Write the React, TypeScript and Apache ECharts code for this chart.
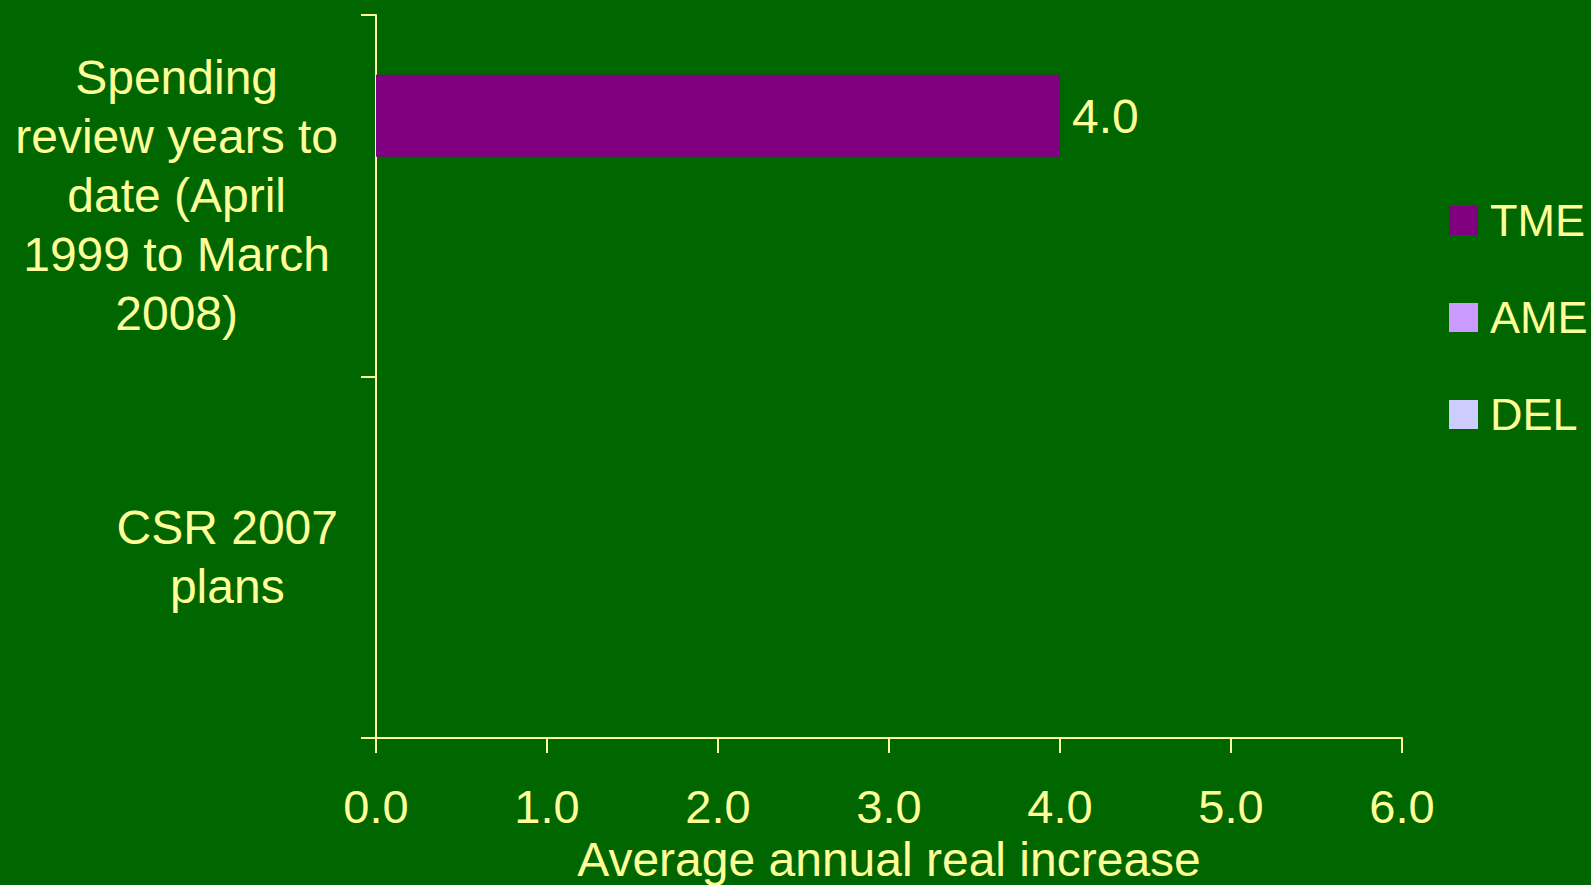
import React, { useEffect, useRef } from "react";
import * as echarts from "echarts";

const categories: string[] = [
  "Spending\nreview years to\ndate (April\n1999 to March\n2008)",
  "CSR 2007\nplans",
];
const seriesNames: string[] = ["TME", "AME", "DEL"];
const tmeValues: (number | string)[] = [4.0, "-"];
const ameValues: (number | string)[] = ["-", "-"];
const delValues: (number | string)[] = ["-", "-"];
const xTicks: number[] = [0, 1, 2, 3, 4, 5, 6];

const BG = "#006600";
const FG = "#FFFF99";
const COLORS = ["#800080", "#CC99FF", "#CCCCFF"];
const FONT = "'Liberation Sans', Arial, sans-serif";

export default function App() {
  const ref = useRef<HTMLDivElement>(null);
  useEffect(() => {
    if (!ref.current) return;
    const chart = echarts.init(ref.current, undefined, { renderer: "svg" });
    const values = [tmeValues, ameValues, delValues];
    chart.setOption({
      animation: false,
      backgroundColor: BG,
      textStyle: { fontFamily: FONT, color: FG },
      legend: {
        orient: "vertical",
        left: 1444,
        top: 193,
        itemWidth: 29,
        itemHeight: 29,
        itemGap: 52,
        icon: "rect",
        data: seriesNames,
        textStyle: { color: FG, fontSize: 45, fontFamily: FONT, padding: [0, 0, 0, 7] },
      },
      grid: {
        left: 376,
        top: 15,
        right: 189,
        bottom: 147,
        containLabel: false,
        outerBoundsMode: "none",
      },
      xAxis: {
        type: "value",
        min: xTicks[0],
        max: xTicks[xTicks.length - 1],
        interval: 1,
        name: "Average annual real increase",
        nameLocation: "middle",
        nameGap: 97,
        nameTextStyle: { color: FG, fontSize: 48, fontFamily: FONT },
        axisLine: { show: true, lineStyle: { color: FG, width: 2 } },
        axisTick: { show: true, length: 15, inside: false, lineStyle: { color: FG, width: 2 } },
        splitLine: { show: false },
        axisLabel: {
          color: FG,
          fontSize: 47,
          fontFamily: FONT,
          margin: 45,
          formatter: (v: number) => v.toFixed(1),
        },
      },
      yAxis: {
        type: "category",
        inverse: true,
        data: categories,
        axisLine: { show: true, lineStyle: { color: FG, width: 2 } },
        axisTick: { show: true, length: 15, inside: false, alignWithLabel: false, lineStyle: { color: FG, width: 2 } },
        splitLine: { show: false },
        axisLabel: {
          color: FG,
          fontSize: 48,
          fontFamily: FONT,
          margin: 38,
          align: "right",
          lineHeight: 59,
          formatter: (v: string) =>
            v
              .split("\n")
              .map((l) => "{c|" + l + "}")
              .join("\n"),
          rich: {
            c: { align: "center", color: FG, fontSize: 48, fontFamily: FONT, lineHeight: 59 },
          },
        },
      },
      series: seriesNames.map((name, i) => ({
        name,
        type: "bar",
        data: values[i],
        barWidth: 82,
        barGap: "-2.5%",
        itemStyle: { color: COLORS[i] },
        label: {
          show: i === 0,
          position: "right",
          distance: 12,
          offset: [0, 1],
          color: FG,
          fontSize: 48,
          fontFamily: FONT,
          formatter: (p: any) => Number(p.value).toFixed(1),
        },
      })),
    });
    return () => chart.dispose();
  }, []);
  return (
    <div
      ref={ref}
      style={{ position: "fixed", left: 0, top: 0, width: 1591, height: 885 }}
    />
  );
}
